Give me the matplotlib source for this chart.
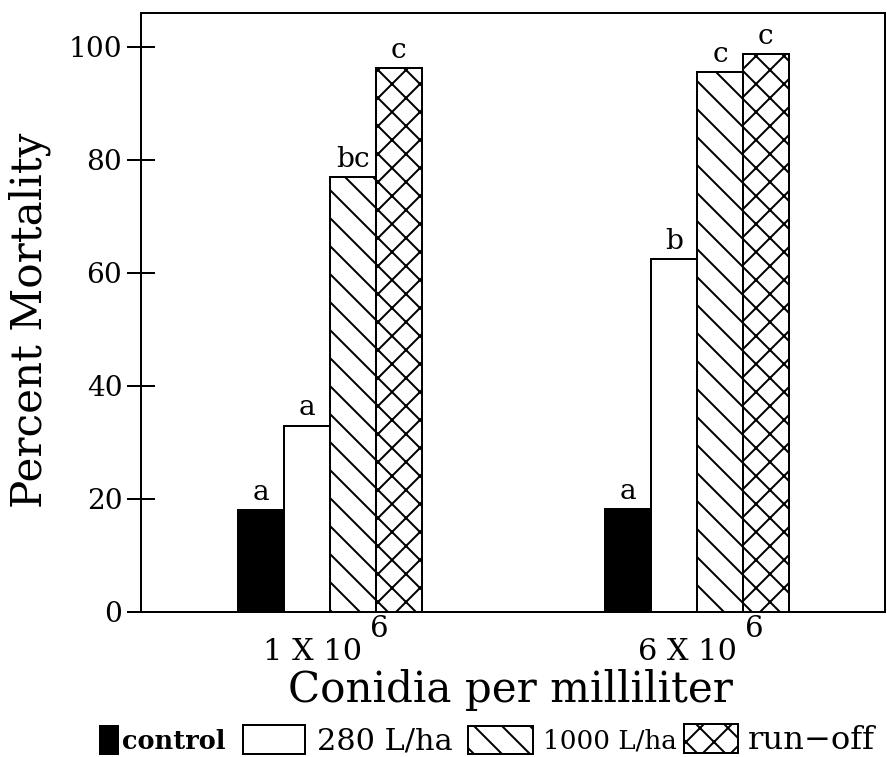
import matplotlib
matplotlib.use("Agg")
import matplotlib.pyplot as plt
import numpy as np

# ---- data ----
groups = ["1 X 10", "6 X 10"]
exponent = "6"
treatments = ["control", "280 L/ha", "1000 L/ha", "run\u2212off"]
control = [18.0, 18.2]
l280 = [33.0, 62.4]
l1000 = [77.0, 95.5]
runoff = [96.2, 98.7]
letters_control = ["a", "a"]
letters_280 = ["a", "b"]
letters_1000 = ["bc", "c"]
letters_runoff = ["c", "c"]
yticks = [0, 20, 40, 60, 80, 100]

DPI = 168
W, H = 887, 757
px = 72.0 / DPI  # points per pixel

plt.rcParams["font.family"] = ["DejaVu Serif"]
plt.rcParams["hatch.linewidth"] = 2.0 * px
plt.rcParams["hatch.color"] = "black"

fig = plt.figure(figsize=(W / DPI, H / DPI), dpi=DPI)
ax = fig.add_axes([141 / W, 1 - 612 / H, (885 - 141) / W, (612 - 13) / H])

x = np.arange(len(groups))
bw = 0.125
series = [control, l280, l1000, runoff]
letters = [letters_control, letters_280, letters_1000, letters_runoff]
faces = ["black", "white", "white", "white"]
hatches = [None, None, "\\\\", "xx"]
offsets = [-1.5, -0.5, 0.5, 1.5]
handles = []
for vals, lab, fc, h, off in zip(series, treatments, faces, hatches, offsets):
    bars = ax.bar(x + off * bw, vals, bw, color=fc, edgecolor="black",
                  linewidth=2.0 * px, hatch=h, label=lab)
    handles.append(bars[0])
for vals, lets, off in zip(series, letters, offsets):
    for xi, v, t in zip(x, vals, lets):
        ax.text(xi + off * bw, v + 1.8, t, ha="center", va="baseline",
                fontsize=12)

ax.set_xlim(-0.515, 1.512)
ax.set_ylim(0, 106)
ax.set_yticks(yticks)
ax.set_yticklabels([str(t) for t in yticks])
ax.tick_params(axis="y", direction="inout", length=28 * px, width=2 * px,
               labelsize=12, pad=2)
ax.set_xticks([])
for s in ax.spines.values():
    s.set_linewidth(2.0 * px)

# group labels with raised exponent
label_dx = [0.087, 0.109]
trans = ax.get_xaxis_transform()
for xi, g, dx in zip(x, groups, label_dx):
    ax.text(xi + dx, -0.080, g, transform=trans, ha="right", va="baseline",
            fontsize=13)
    ax.text(xi + dx + 0.022, -0.0417, exponent, transform=trans, ha="left",
            va="baseline", fontsize=12.5)

ax.set_ylabel("Percent Mortality", fontsize=18)
ax.yaxis.set_label_coords(-0.121, 0.487)
ax.set_xlabel("Conidia per milliliter", fontsize=18)
ax.xaxis.set_label_coords(0.497, -0.095)

# legend: one entry per legend box so each sits where the reference has it
leg_x = [100, 243, 468, 684]          # left edge of each handle (px)
leg_len = [18, 62, 65, 54]            # handle widths (px)
leg_pad = [4, 12, 10, 10]             # handle-text gap (px)
leg_fs = [11, 13, 11.2, 13.8]         # font sizes (pt)
leg_y = 1 - 740 / H
for i, (h, lab) in enumerate(zip(handles, treatments)):
    fs = leg_fs[i]
    lg = fig.legend([h], [lab], loc="center left",
                    bbox_to_anchor=(leg_x[i] / W, leg_y), borderaxespad=0,
                    borderpad=0, frameon=False, fontsize=fs,
                    handlelength=leg_len[i] * px / fs,
                    handleheight=33 * px / fs,
                    handletextpad=leg_pad[i] * px / fs)
    if i == 0:
        lg.get_texts()[0].set_fontweight("bold")

fig.savefig("out.png", dpi=DPI)
